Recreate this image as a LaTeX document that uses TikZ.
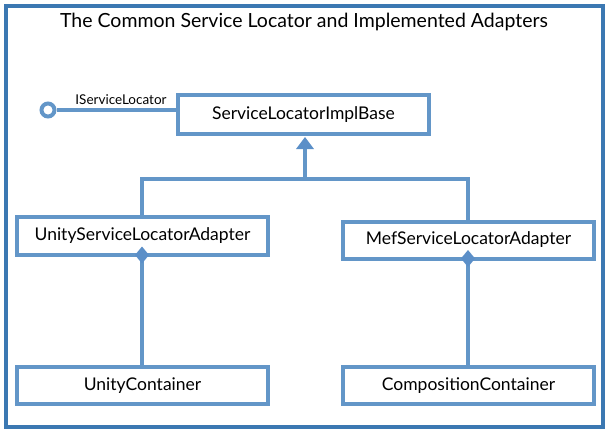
\documentclass[tikz,border=0pt]{standalone}
\usepackage{fontspec}
\setmainfont{Lato}
\definecolor{framec}{HTML}{3B78B2}
\definecolor{boxc}{HTML}{6396C8}
\definecolor{arrc}{HTML}{5B8FC8}
\begin{document}
\begin{tikzpicture}[x=1pt,y=-1pt,
  cls/.style={draw=boxc,line width=4pt,fill=white,minimum width=251pt,minimum height=38pt,inner sep=0pt,font=\fontsize{17.5}{20}\selectfont},
  conn/.style={draw=boxc,line width=4pt}]
\useasboundingbox (0,0) rectangle (608,432);
\draw[framec,line width=4pt] (6,6) rectangle (603,427);
\node[font=\fontsize{19.5}{23}\selectfont] (title) at (304,22) {The Common Service Locator and Implemented Adapters};
\node[cls,minimum height=39pt] (base) at (303.5,114.5) {ServiceLocatorImplBase};
\node[cls] (usla) at (142.5,236) {UnityServiceLocatorAdapter};
\node[cls,minimum height=37pt] (msla) at (468.5,240) {MefServiceLocatorAdapter};
\node[cls,minimum height=37pt] (uc) at (142.5,385.5) {UnityContainer};
\node[cls,minimum height=37pt] (cc) at (468.5,385.5) {CompositionContainer};
% interface lollipop
\node[circle,draw=boxc,line width=4pt,fill=white,minimum size=13pt,inner sep=0pt] (iface) at (48,110) {};
\node[font=\fontsize{13.5}{16}\selectfont,anchor=base] (ilabel) at (121,104) {IServiceLocator};
\draw[conn] (iface) -- (base.west |- iface);
% generalization
\coordinate (junc) at (305,179);
\coordinate (tip) at (305,137);
\draw[conn] (usla.north -| 142,0) |- (junc) -| (msla.north -| 468,0);
\draw[conn] (junc) -- (305,147);
\fill[arrc] (tip) -- (296,149) -- (314,149) -- cycle;
% compositions
\coordinate (d1) at (142,255);
\coordinate (d2) at (468,258.5);
\draw[conn] (d1) -- (uc.north -| d1);
\draw[conn] (d2) -- (cc.north -| d2);
\fill[arrc] (142,246.5) -- (149,255) -- (142,263.5) -- (135,255) -- cycle;
\fill[arrc] (468,250) -- (475,258.5) -- (468,267) -- (461,258.5) -- cycle;
\end{tikzpicture}
\end{document}
